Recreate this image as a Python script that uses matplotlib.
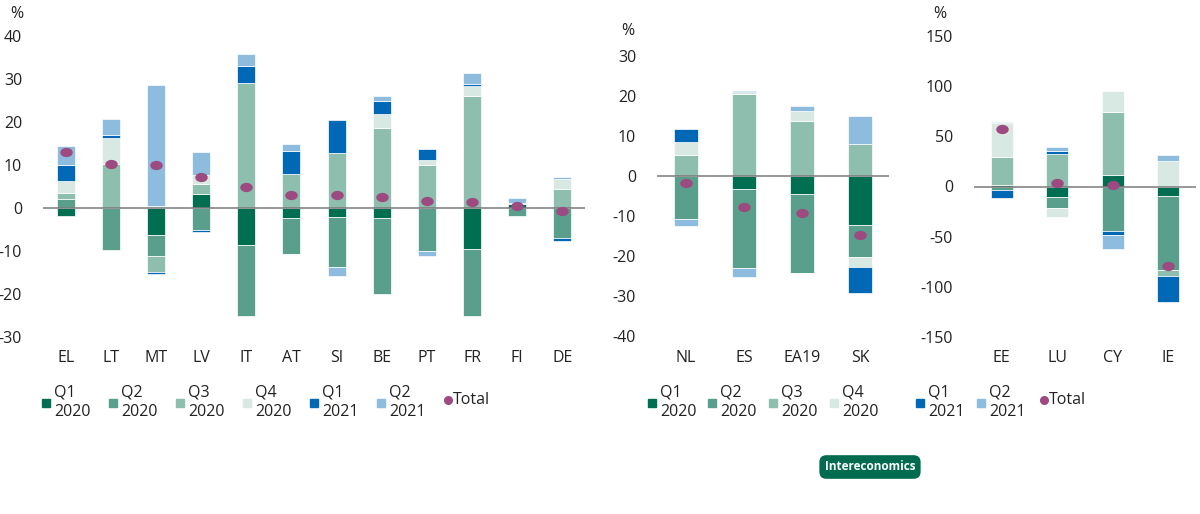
import matplotlib
matplotlib.use("Agg")
import matplotlib.pyplot as plt
from matplotlib.path import Path
from matplotlib.transforms import Affine2D
from matplotlib.lines import Line2D
import numpy as np

plt.rcParams['font.family'] = ['Open Sans', 'DejaVu Sans']

# ---------------- data ----------------
series_names = ["Q1\n2020", "Q2\n2020", "Q3\n2020", "Q4\n2020", "Q1\n2021", "Q2\n2021"]
series_colors = ['#006E50', '#5A9E8C', '#8DBEAE', '#D8E8E3', '#0068B4', '#8EBCDF']
total_color = '#9C4A7F'

left_countries = ['EL', 'LT', 'MT', 'LV', 'IT', 'AT', 'SI', 'BE', 'PT', 'FR', 'FI', 'DE']
left_q1_2020 = [-1.9, 0.0, -6.2, 3.3, -8.5, -2.3, -2.2, -2.3, 0.0, -9.5, 1.0, 0.0]
left_q2_2020 = [2.2, -9.7, -5.0, -5.0, -16.6, -8.4, -11.5, -17.8, -9.9, -15.6, -1.8, -7.0]
left_q3_2020 = [1.3, 10.3, -3.7, 2.3, 29.1, 8.0, 12.8, 18.6, 9.9, 26.1, 0.25, 4.4]
left_q4_2020 = [2.7, 5.9, 0.5, 2.1, 0.0, -0.2, 0.0, 3.3, 1.3, 2.2, 0.0, 2.3]
left_q1_2021 = [3.9, 0.85, -0.5, -0.6, 4.0, 5.3, 7.7, 2.9, 2.5, 0.6, 0.0, -0.7]
left_q2_2021 = [4.4, 3.7, 28.1, 5.3, 2.6, 1.5, -2.0, 1.3, -1.2, 2.5, 1.0, 0.55]
left_total = [13.1, 10.2, 10.1, 7.3, 5.0, 3.0, 3.0, 2.6, 1.7, 1.5, 0.5, -0.6]
left_ticks = [-30, -20, -10, 0, 10, 20, 30, 40]

mid_countries = ['NL', 'ES', 'EA19', 'SK']
mid_q1_2020 = [0.0, -3.2, -4.4, -12.25]
mid_q2_2020 = [-10.8, -19.75, -19.75, -8.1]
mid_q3_2020 = [5.2, 20.4, 13.8, 8.0]
mid_q4_2020 = [3.2, 0.6, 2.5, -2.3]
mid_q1_2021 = [3.25, 0.25, -0.15, -6.7]
mid_q2_2021 = [-1.7, -2.25, 1.25, 7.1]
mid_total = [-1.7, -7.7, -9.2, -14.8]
mid_ticks = [-40, -30, -20, -10, 0, 10, 20, 30]

right_countries = ['EE', 'LU', 'CY', 'IE']
right_q1_2020 = [1.0, -10.0, 11.7, -9.0]
right_q2_2020 = [-3.5, -11.7, -44.0, -74.3]
right_q3_2020 = [28.7, 32.7, 62.7, -6.0]
right_q4_2020 = [33.7, -8.3, 20.7, 25.3]
right_q1_2021 = [-8.0, 2.3, -4.0, -25.7]
right_q2_2021 = [1.3, 4.3, -14.3, 6.0]
right_total = [57.0, 3.7, 1.7, -79.0]
right_ticks = [-150, -100, -50, 0, 50, 100, 150]

# ---------------- figure ----------------
W, H = 1200, 514
fig = plt.figure(figsize=(W / 100, H / 100), dpi=100)

def fx(px):
    return px / W

def fy(py):
    return 1 - py / H

ellipse = Path.unit_circle().transformed(Affine2D().scale(1.35, 1.0))

def panel(rect, countries, series, total, ticks, ylim):
    ax = fig.add_axes(rect)
    x = np.arange(len(countries))
    pos = np.zeros(len(countries))
    neg = np.zeros(len(countries))
    for vals, col in zip(series, series_colors):
        v = np.array(vals, dtype=float)
        bottoms = np.where(v >= 0, pos, neg)
        ax.bar(x, v, width=0.4, bottom=bottoms, color=col,
               edgecolor='white', linewidth=0.5, zorder=2)
        pos = pos + np.where(v > 0, v, 0)
        neg = neg + np.where(v < 0, v, 0)
    ax.axhline(0, color='#7a7a7a', lw=1.1, zorder=3)
    ax.plot(x, total, linestyle='none', marker=ellipse, markersize=9,
            color=total_color, markeredgewidth=0, zorder=4)
    ax.set_xlim(-0.5, len(countries) - 0.5)
    ax.set_ylim(*ylim)
    ax.set_yticks(ticks)
    ax.set_yticklabels([str(t) for t in ticks])
    ax.set_xticks(x)
    ax.set_xticklabels(countries)
    for s in ax.spines.values():
        s.set_visible(False)
    ax.tick_params(axis='y', length=0, pad=15, labelsize=11.5, labelcolor='#222222')
    ax.tick_params(axis='x', length=0, pad=9, labelsize=11.5, labelcolor='#222222')
    ax.set_facecolor('none')
    return ax

bot = fy(337)
hgt = 301 / H
panel([fx(43), bot, fx(585) - fx(43), hgt], left_countries,
      [left_q1_2020, left_q2_2020, left_q3_2020, left_q4_2020, left_q1_2021, left_q2_2021],
      left_total, left_ticks, (-30, 40))
panel([fx(657), bot, fx(889) - fx(657), hgt], mid_countries,
      [mid_q1_2020, mid_q2_2020, mid_q3_2020, mid_q4_2020, mid_q1_2021, mid_q2_2021],
      mid_total, mid_ticks, (-40.25, 35))
panel([fx(974), bot, fx(1196) - fx(974), hgt], right_countries,
      [right_q1_2020, right_q2_2020, right_q3_2020, right_q4_2020, right_q1_2021, right_q2_2021],
      right_total, right_ticks, (-150, 150))

# percent labels
for px, py in [(17, 14), (628, 31), (940, 14)]:
    fig.text(fx(px), fy(py), '%', ha='center', va='center', fontsize=11.5, color='#222222')

# ---------------- legends ----------------
def legend_entry(px, label, color, kind):
    if kind == 'sq':
        fig.add_artist(Line2D([fx(px)], [fy(403)], marker='s', markersize=6.2,
                              color=color, linestyle='none', transform=fig.transFigure))
        fig.text(fx(px + 8), fy(402), label, ha='left', va='center', fontsize=11.5,
                 color='#222222', linespacing=1.3)
    else:
        fig.add_artist(Line2D([fx(px)], [fy(400)], marker='o', markersize=5.5,
                              color=color, linestyle='none', transform=fig.transFigure))
        fig.text(fx(px + 5), fy(400), label, ha='left', va='center', fontsize=11.5,
                 color='#222222')

left_leg_x = [46, 113, 180, 247, 314, 381]
for px, lab, col in zip(left_leg_x, series_names, series_colors):
    legend_entry(px, lab, col, 'sq')
legend_entry(448, 'Total', total_color, 'dot')

right_leg_x = [652, 712, 773, 834, 920, 981]
for px, lab, col in zip(right_leg_x, series_names, series_colors):
    legend_entry(px, lab, col, 'sq')
legend_entry(1044, 'Total', total_color, 'dot')

# badge
fig.text(fx(870), fy(467), 'Intereconomics', ha='center', va='center', fontsize=8.5,
         fontweight='bold', color='white',
         bbox=dict(boxstyle='round,pad=0.45,rounding_size=0.6', fc='#006B4F', ec='none'))

fig.savefig('out.png', dpi=100, facecolor='white')
